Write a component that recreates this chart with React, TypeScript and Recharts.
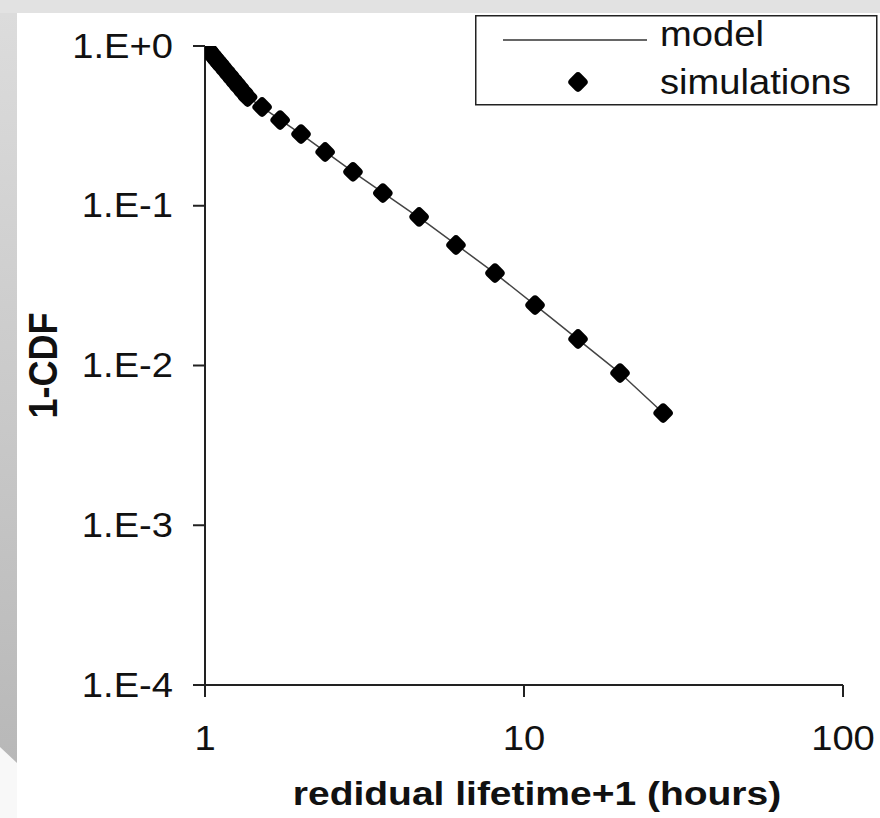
import React from "react";
import { ComposedChart, Line, Scatter, XAxis, YAxis, Legend, Label } from "recharts";

// residual lifetime + 1 (hours) for simulation points
const simX = [
  1.0, 1.01, 1.02, 1.03, 1.05, 1.07, 1.09, 1.11, 1.13, 1.16, 1.19, 1.22, 1.25, 1.28, 1.32, 1.36,
  1.51, 1.72, 2.0, 2.38, 2.91, 3.61, 4.69, 6.12, 8.11, 10.83, 14.77, 20.0, 27.3,
];
// 1-CDF for simulation points
const simY = [
  1.0, 0.976, 0.954, 0.932, 0.89, 0.85, 0.813, 0.779, 0.746, 0.701, 0.659, 0.621, 0.586, 0.553, 0.514, 0.479,
  0.415, 0.344, 0.281, 0.217, 0.163, 0.12, 0.0851, 0.0568, 0.0379, 0.0239, 0.01465, 0.00897, 0.00504,
];
// model curve
const modelX = [1.0, 1.05, 1.1, 1.2, 1.36, 1.5, 2.0, 3.0, 5.0, 8.0, 12.0, 20.0, 27.3];
const modelY = [1.0, 0.89, 0.796, 0.646, 0.479, 0.418, 0.281, 0.156, 0.077, 0.0386, 0.0203, 0.00897, 0.00504];

const xTicks = [1, 10, 100];
const xTickLabels = ["1", "10", "100"];
const yTicks = [0.0001, 0.001, 0.01, 0.1, 1];
const yTickLabels = ["1.E-4", "1.E-3", "1.E-2", "1.E-1", "1.E+0"];
const seriesNames = ["model", "simulations"];
const xTitle = "redidual lifetime+1 (hours)";
const yTitle = "1-CDF";

const simData = simX.map((x, i) => ({ x, y: simY[i] }));
const modelData = modelX.map((x, i) => ({ x, y: modelY[i] }));

const FONT = "'Liberation Sans', Arial, sans-serif";
const INK = "#111";

const Diamond = ({ cx, cy }: any) => {
  const s = 16;
  return (
    <rect
      x={cx - s / 2}
      y={cy - s / 2}
      width={s}
      height={s}
      rx={4}
      ry={4}
      fill="#000"
      transform={`rotate(45 ${cx} ${cy})`}
    />
  );
};

const YTick = (props: any) => {
  const { x, y, payload } = props;
  const idx = yTicks.findIndex((t) => Math.abs(Math.log10(t) - Math.log10(payload.value)) < 1e-6);
  return (
    <text
      transform={`translate(${x},${y}) scale(1.09,1)`}
      textAnchor="end"
      dy="0.33em"
      fontSize={35}
      fontFamily={FONT}
      fill={INK}
    >
      {idx >= 0 ? yTickLabels[idx] : ""}
    </text>
  );
};

const XTick = (props: any) => {
  const { x, y, payload } = props;
  const idx = xTicks.findIndex((t) => Math.abs(t - payload.value) < 1e-6);
  return (
    <text
      transform={`translate(${x},${y}) scale(1.09,1)`}
      textAnchor="middle"
      dy="0.71em"
      fontSize={35}
      fontFamily={FONT}
      fill={INK}
    >
      {idx >= 0 ? xTickLabels[idx] : ""}
    </text>
  );
};

const renderLegend = () => (
  <svg width={403} height={91} style={{ display: "block" }}>
    <rect x={0.75} y={0.75} width={401} height={89} fill="#fff" stroke="#222" strokeWidth={1.5} />
    <line x1={28} y1={25} x2={172} y2={25} stroke="#333" strokeWidth={1.5} />
    <text transform="translate(185,31) scale(1.09,1)" fontSize={35} fontFamily={FONT} fill={INK}>
      {seriesNames[0]}
    </text>
    <Diamond cx={103} cy={67} />
    <text transform="translate(185,79) scale(1.09,1)" fontSize={35} fontFamily={FONT} fill={INK}>
      {seriesNames[1]}
    </text>
  </svg>
);

const XTitle = (props: any) => {
  const vb = props.viewBox || { x: 205, y: 685, width: 638, height: 100 };
  return (
    <text
      transform={`translate(${vb.x + vb.width / 2 + 13},${vb.y + 120}) scale(1.2,1)`}
      textAnchor="middle"
      fontSize={32.5}
      fontWeight="bold"
      fontFamily={FONT}
      fill={INK}
    >
      {xTitle}
    </text>
  );
};

const YTitle = (props: any) => {
  const vb = props.viewBox || { x: 55, y: 46, width: 150, height: 639 };
  return (
    <text
      transform={`translate(57,${vb.y + vb.height / 2}) rotate(-90) scale(1.06,1.2)`}
      textAnchor="middle"
      fontSize={34}
      fontWeight="bold"
      fontFamily={FONT}
      fill={INK}
    >
      {yTitle}
    </text>
  );
};

export default function App() {
  return (
    <div style={{ position: "absolute", left: 0, top: 0, width: 880, height: 818, background: "#fff" }}>
      <svg width={880} height={818} style={{ position: "absolute", left: 0, top: 0 }}>
        <defs>
          <linearGradient id="leftStrip" x1="0" y1="0" x2="0" y2="1">
            <stop offset="0" stopColor="#dcdcdc" />
            <stop offset="1" stopColor="#b8b8b8" />
          </linearGradient>
        </defs>
        <rect x={0} y={0} width={880} height={818} fill="#fff" />
        <rect x={0} y={0} width={880} height={13} fill="#e2e2e2" />
        <rect x={0} y={747} width={17} height={71} fill="#f8f8f8" />
        <polygon points="0,13 17,13 17,763 0,747" fill="url(#leftStrip)" />
      </svg>
      <div style={{ position: "absolute", left: 0, top: 0 }}>
        <ComposedChart
          width={880}
          height={818}
          margin={{ top: 46, right: 37, bottom: 33, left: 55 }}
          style={{ fontFamily: FONT }}
        >
          <XAxis
            dataKey="x"
            type="number"
            scale="log"
            domain={[1, 100]}
            ticks={xTicks}
            allowDataOverflow
            height={100}
            tickSize={12}
            tickMargin={28}
            axisLine={{ stroke: "#222", strokeWidth: 2 }}
            tickLine={{ stroke: "#222", strokeWidth: 2 }}
            tick={<XTick />}
            interval={0}
          >
            <Label content={<XTitle />} />
          </XAxis>
          <YAxis
            dataKey="y"
            type="number"
            scale="log"
            domain={[0.0001, 1]}
            ticks={yTicks}
            allowDataOverflow
            width={150}
            tickSize={12}
            tickMargin={20}
            axisLine={{ stroke: "#222", strokeWidth: 2 }}
            tickLine={{ stroke: "#222", strokeWidth: 2 }}
            tick={<YTick />}
            interval={0}
          >
            <Label content={<YTitle />} />
          </YAxis>
          <Legend
            layout="vertical"
            align="center"
            verticalAlign="middle"
            content={renderLegend}
            wrapperStyle={{ left: 475, top: 15, width: 403, height: 91 }}
          />
          <Line
            data={modelData}
            dataKey="y"
            type="linear"
            stroke="#444"
            strokeWidth={1.5}
            dot={false}
            activeDot={false}
            isAnimationActive={false}
            name={seriesNames[0]}
          />
          <Scatter
            data={simData}
            dataKey="y"
            shape={(p: any) => <Diamond cx={p.cx} cy={p.cy} />}
            isAnimationActive={false}
            name={seriesNames[1]}
          />
        </ComposedChart>
      </div>
    </div>
  );
}
